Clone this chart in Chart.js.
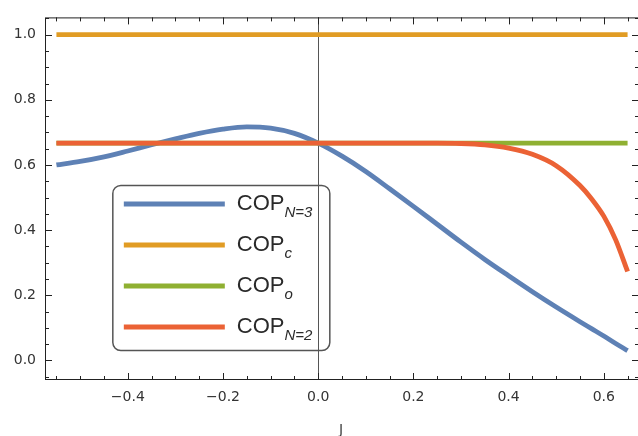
<!DOCTYPE html>
<html>
<head>
<meta charset="utf-8">
<script src="https://cdn.jsdelivr.net/npm/chart.js@4/dist/chart.umd.min.js"></script>
<style>
html,body{margin:0;padding:0;background:#fff;overflow:hidden;width:638px;height:436px}
#wrap{width:660px;height:436px}
</style>
</head>
<body>
<div id="wrap"><canvas id="c" width="660" height="436"></canvas></div>
<script>
// ---- data ----
const J      = [-0.55,-0.50,-0.45,-0.40,-0.35,-0.30,-0.25,-0.20,-0.15,-0.10,-0.05,0.00,0.05,0.10,0.15,0.20,0.25,0.30,0.35,0.40,0.45,0.50,0.55,0.575,0.60,0.625,0.65];
const copN3  = [0.600,0.611,0.625,0.643,0.662,0.680,0.697,0.710,0.717,0.713,0.697,0.667,0.627,0.580,0.527,0.473,0.418,0.363,0.310,0.260,0.211,0.164,0.119,0.097,0.075,0.052,0.030];
const copC   = [1,1,1,1,1,1,1,1,1,1,1,1,1,1,1,1,1,1,1,1,1,1,1,1,1,1,1];
const copO   = [0.667,0.667,0.667,0.667,0.667,0.667,0.667,0.667,0.667,0.667,0.667,0.667,0.667,0.667,0.667,0.667,0.667,0.667,0.667,0.667,0.667,0.667,0.667,0.667,0.667,0.667,0.667];
const copN2  = [0.667,0.667,0.667,0.667,0.667,0.667,0.667,0.667,0.667,0.667,0.667,0.667,0.667,0.667,0.667,0.667,0.667,0.666,0.662,0.652,0.633,0.598,0.537,0.495,0.443,0.370,0.273];
const seriesMain = ['COP','COP','COP','COP'];
const seriesSub  = ['N=3','c','o','N=2'];
const xTickValues = [-0.4,-0.2,0.0,0.2,0.4,0.6];
const yTickValues = [0.0,0.2,0.4,0.6,0.8,1.0];
const xAxisTitle = 'J';

const colors = ['#5E81B5','#E19C24','#8FB032','#EB6235'];
const series = [copN3, copC, copO, copN2];

const pts = arr => J.map((j,i)=>({x:j,y:arr[i]}));
const fmt = v => (Math.abs(v)<1e-9 ? '0.0' : (v<0 ? '\u2212'+Math.abs(v).toFixed(1) : v.toFixed(1)));

const datasets = series.map((s,i)=>({
  label: seriesMain[i]+seriesSub[i],
  data: pts(s),
  borderColor: colors[i],
  backgroundColor: colors[i],
  borderWidth: 4.8,
  pointRadius: 0,
  cubicInterpolationMode: 'monotone',
  borderCapStyle: 'butt',
  order: 4-i,
  fill: false
}));

const near = (a,b)=>Math.abs(a-b)<1e-6;

const framePlugin = {
  id: 'frame',
  beforeDatasetsDraw(chart){
    const {ctx, chartArea:a, scales:{x}} = chart;
    const px = Math.round(x.getPixelForValue(0)) + 0.5;
    ctx.save();
    ctx.strokeStyle = '#555';
    ctx.lineWidth = 1;
    ctx.beginPath(); ctx.moveTo(px, a.top); ctx.lineTo(px, a.bottom); ctx.stroke();
    ctx.restore();
  },
  afterDraw(chart){
    const {ctx, chartArea:a, scales:{x,y}} = chart;
    ctx.save();
    // frame
    ctx.strokeStyle = '#222';
    ctx.lineWidth = 1;
    ctx.strokeRect(a.left+0.5, a.top+0.5, a.right-a.left-1, a.bottom-a.top-1);
    // x ticks (minor every 0.05)
    ctx.beginPath();
    for (let k=-11;k<=13;k++){
      const v = k*0.05;
      if (v < x.min || v > x.max) continue;
      const major = xTickValues.some(t=>near(t,v));
      const len = major ? 7 : 4;
      const px = Math.round(x.getPixelForValue(v)) + 0.5;
      ctx.moveTo(px, a.bottom); ctx.lineTo(px, a.bottom-len);
      ctx.moveTo(px, a.top); ctx.lineTo(px, a.top+len);
    }
    // y ticks
    for (let k=-1;k<=21;k++){
      const v = k*0.05;
      if (v < y.min || v > y.max) continue;
      const major = yTickValues.some(t=>near(t,v));
      const len = major ? 7 : 4;
      const py = Math.round(y.getPixelForValue(v)) + 0.5;
      ctx.moveTo(a.left, py); ctx.lineTo(a.left+len, py);
      ctx.moveTo(a.right, py); ctx.lineTo(a.right-len, py);
    }
    ctx.stroke();

    // axis title
    ctx.fillStyle = '#444';
    ctx.font = '14px "DejaVu Sans"';
    ctx.textAlign = 'center';
    ctx.textBaseline = 'middle';
    ctx.fillText(xAxisTitle, (a.left+a.right)/2 - 1, 430);

    // legend box
    const bx = x.getPixelForValue(-0.4) - 15, by = 185.5, bw = 217, bh = 165, r = 8;
    ctx.strokeStyle = '#555';
    ctx.lineWidth = 1.5;
    ctx.beginPath();
    ctx.moveTo(bx+r, by);
    ctx.arcTo(bx+bw, by, bx+bw, by+bh, r);
    ctx.arcTo(bx+bw, by+bh, bx, by+bh, r);
    ctx.arcTo(bx, by+bh, bx, by, r);
    ctx.arcTo(bx, by, bx+bw, by, r);
    ctx.closePath();
    ctx.stroke();
    const rows = [204, 245, 286, 327];
    rows.forEach((ry,i)=>{
      ctx.strokeStyle = colors[i];
      ctx.lineWidth = 4.8;
      ctx.lineCap = 'butt';
      ctx.beginPath(); ctx.moveTo(bx+11, ry); ctx.lineTo(bx+112, ry); ctx.stroke();
      ctx.fillStyle = '#2a2a2a';
      ctx.textAlign = 'left';
      ctx.textBaseline = 'middle';
      ctx.font = '22px "Liberation Sans"';
      const tx = bx+124;
      ctx.fillText(seriesMain[i], tx, ry);
      const w = ctx.measureText(seriesMain[i]).width;
      ctx.font = 'italic 15px "Liberation Sans"';
      ctx.textBaseline = 'alphabetic';
      ctx.fillText(seriesSub[i], tx+w, ry+13);
    });
    ctx.restore();
  }
};

new Chart(document.getElementById('c'), {
  type: 'line',
  data: { datasets },
  options: {
    responsive: false,
    animation: false,
    devicePixelRatio: 1,
    layout: { padding: { left: 0, top: 11, right: 21, bottom: 0 } },
    plugins: { legend: { display: false }, tooltip: { enabled: false } },
    scales: {
      x: {
        type: 'linear',
        min: -0.574, max: 0.674,
        afterBuildTicks: s => { s.ticks = xTickValues.map(v=>({value:v})); },
        afterFit: s => { s.height = 56; },
        grid: { display: false, drawTicks: false },
        border: { display: false },
        ticks: { padding: 9, color: '#333', font: { family: 'DejaVu Sans', size: 14 }, maxRotation: 0, autoSkip: false, callback: v => fmt(v) }
      },
      y: {
        type: 'linear',
        min: -0.06, max: 1.053,
        afterBuildTicks: s => { s.ticks = yTickValues.map(v=>({value:v})); },
        afterFit: s => { s.width = 45; },
        grid: { display: false, drawTicks: false },
        border: { display: false },
        ticks: { padding: 9, color: '#333', font: { family: 'DejaVu Sans', size: 14 }, autoSkip: false, callback: v => fmt(v) }
      }
    }
  },
  plugins: [framePlugin]
});
</script>
</body>
</html>
